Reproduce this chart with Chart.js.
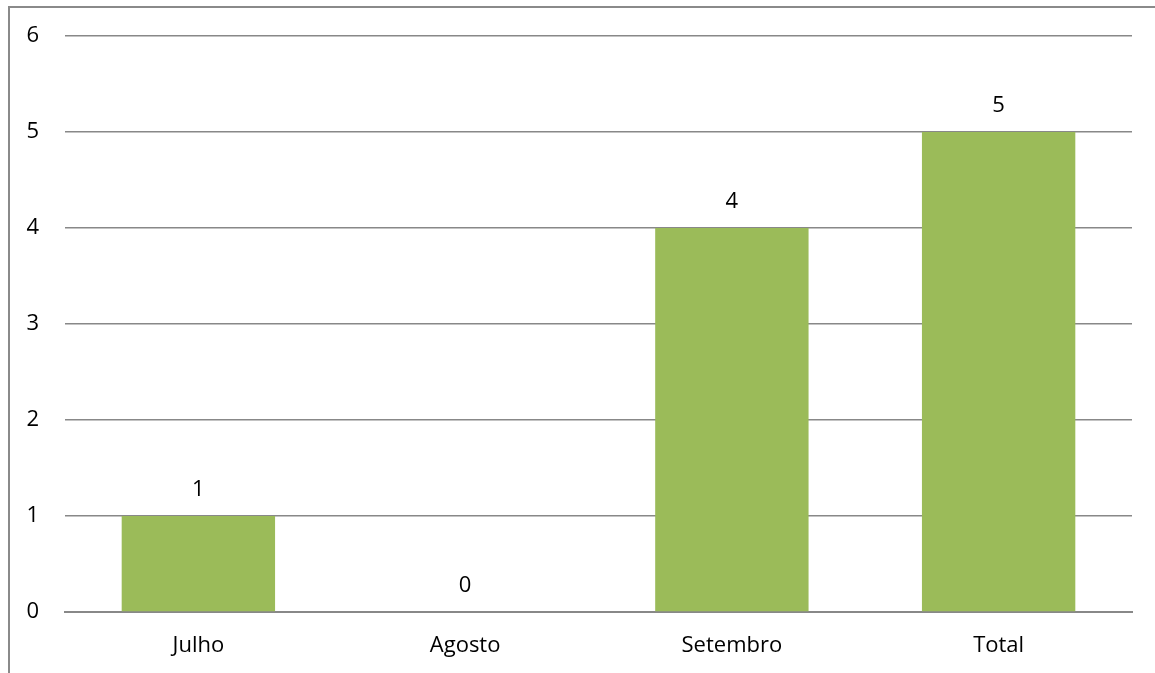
<!DOCTYPE html>
<html>
<head>
<meta charset="utf-8">
<script src="https://cdn.jsdelivr.net/npm/chart.js@4"></script>
<style>
  html, body { margin: 0; padding: 0; background: #fff; }
  #wrap { width: 1155px; height: 673px; position: relative; }
</style>
</head>
<body>
<div id="wrap"><canvas id="chart" width="1155" height="673"></canvas></div>
<script>
// dados do gráfico
const categories = ["Julho", "Agosto", "Setembro", "Total"];
const values = [1, 0, 4, 5];
const yTicks = [0, 1, 2, 3, 4, 5, 6];

const FONT = "'Open Sans', 'Noto Sans', sans-serif";
const FSIZE = 22;

// moldura cinza (canto superior esquerdo, recortada à direita e embaixo)
const frame = {
    id: "frame",
    beforeDraw(chart) {
        const c = chart.ctx;
        c.save();
        c.strokeStyle = "#8a8a8a";
        c.lineWidth = 2;
        c.beginPath();
        c.moveTo(9, 673);
        c.lineTo(9, 7);
        c.lineTo(1155, 7);
        c.stroke();
        c.restore();
    }
};

// rótulos de valor acima das barras
const valueLabels = {
    id: "valueLabels",
    afterDatasetsDraw(chart) {
        const c = chart.ctx;
        const meta = chart.getDatasetMeta(0);
        c.save();
        c.fillStyle = "#000";
        c.font = FSIZE + "px " + FONT;
        c.textAlign = "center";
        c.textBaseline = "middle";
        meta.data.forEach((bar, i) => {
            c.fillText(String(values[i]), bar.x, bar.y - 26);
        });
        c.restore();
    }
};

new Chart(document.getElementById("chart").getContext("2d"), {
    type: "bar",
    data: {
        labels: categories,
        datasets: [{
            data: values,
            backgroundColor: "#9bbb59",
            borderWidth: 0,
            barPercentage: 0.575,
            categoryPercentage: 1
        }]
    },
    options: {
        responsive: false,
        animation: false,
        layout: { padding: { left: 0, top: 36, right: 23, bottom: 0 } },
        plugins: { legend: { display: false }, tooltip: { enabled: false } },
        scales: {
            x: {
                grid: { display: false, drawTicks: false },
                border: { display: true, color: "#888", width: 2 },
                ticks: { color: "#000", font: { size: FSIZE, family: FONT }, padding: 21 },
                afterFit(scale) { scale.height = 61; }
            },
            y: {
                min: 0,
                max: 6,
                afterBuildTicks(scale) { scale.ticks = yTicks.map(v => ({ value: v })); },
                grid: { color: "#888", lineWidth: 1.5, drawTicks: false },
                border: { display: false },
                ticks: { color: "#000", font: { size: FSIZE, family: FONT }, padding: 26 },
                afterFit(scale) {
                    scale.width = 65;
                    scale.paddingTop = 0;
                    scale.paddingBottom = 0;
                }
            }
        }
    },
    plugins: [frame, valueLabels]
});
</script>
</body>
</html>
